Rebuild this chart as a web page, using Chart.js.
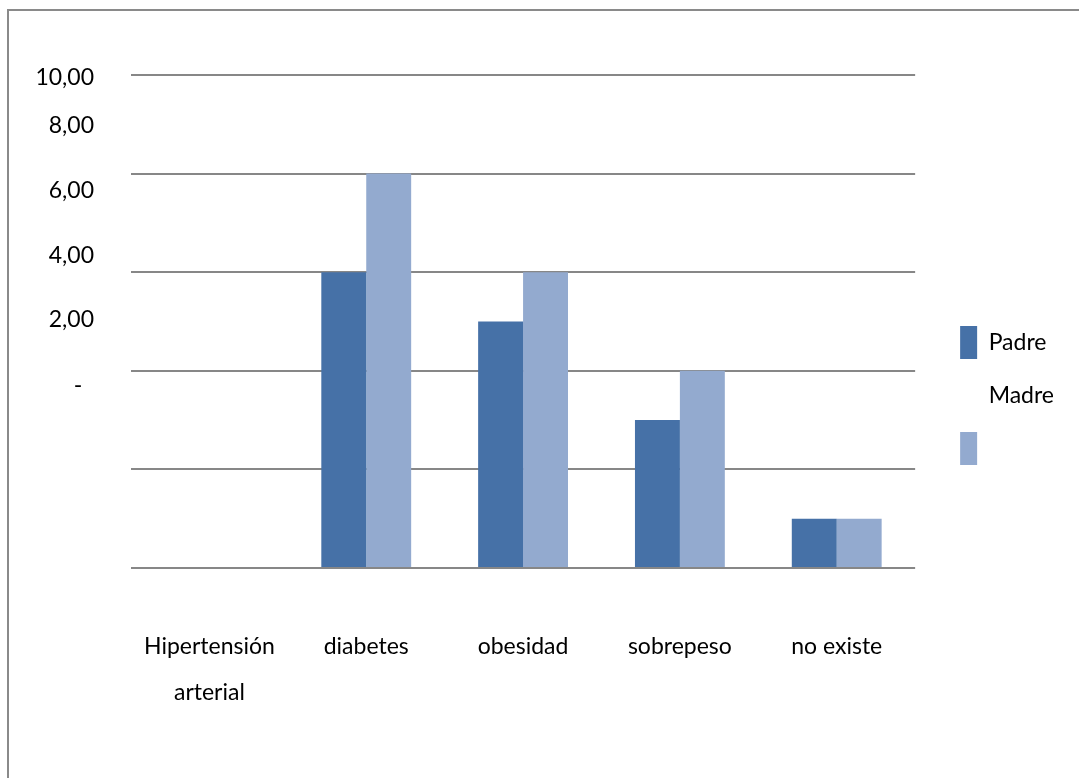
<!DOCTYPE html>
<html>
<head>
<meta charset="utf-8">
<script src="https://cdn.jsdelivr.net/npm/chart.js@4"></script>
<style>
  html, body { margin: 0; padding: 0; background: #fff; overflow: hidden; }
  #frame { position: absolute; left: 7px; top: 9px; width: 1200px; height: 900px; border: 2px solid #8a8a8a; box-sizing: border-box; }
  #c { position: absolute; left: 0; top: 0; }
</style>
</head>
<body>
<div id="frame"></div>
<canvas id="c" width="1079" height="778" style="width:1079px;height:778px"></canvas>
<script>
// ---- data ----
const categories = [['Hipertensión', 'arterial'], 'diabetes', 'obesidad', 'sobrepeso', 'no existe'];
const seriesNames = ['Padre', 'Madre'];
const padreValues = [0, 6, 5, 3, 1];
const madreValues = [0, 8, 6, 4, 1];
const yTickLabels = ['10,00', '8,00', '6,00', '4,00', '2,00', '-  '];

// ---- layout of the (misplaced) value labels, as in the original ----
const yLabelAnchors = [9.94, 8.97, 7.65, 6.33, 5.03, 3.71];

const FONT = 'Lato';
const DARK = '#4671a7';
const LIGHT = '#93aacf';

new Chart(document.getElementById('c'), {
  type: 'bar',
  data: {
    labels: categories,
    datasets: [
      { label: seriesNames[0], data: padreValues, backgroundColor: DARK, borderWidth: 0,
        categoryPercentage: 0.573, barPercentage: 1.0 },
      { label: seriesNames[1], data: madreValues, backgroundColor: LIGHT, borderWidth: 0,
        categoryPercentage: 0.573, barPercentage: 1.0 }
    ]
  },
  options: {
    responsive: false,
    animation: false,
    devicePixelRatio: 1,
    layout: { padding: { top: 75, bottom: 62, left: 0, right: 15 } },
    plugins: {
      tooltip: { enabled: false },
      legend: {
        position: 'right',
        align: 'center',
        labels: {
          boxWidth: 17,
          boxHeight: 33,
          padding: 20,
          color: '#000',
          font: { family: FONT, size: 23 },
          generateLabels: (chart) => [
            { text: seriesNames[0], fillStyle: DARK, strokeStyle: 'rgba(0,0,0,0)', lineWidth: 0, datasetIndex: 0, hidden: false },
            { text: seriesNames[1], fillStyle: 'rgba(0,0,0,0)', strokeStyle: 'rgba(0,0,0,0)', lineWidth: 0, hidden: false },
            { text: '', fillStyle: LIGHT, strokeStyle: 'rgba(0,0,0,0)', lineWidth: 0, datasetIndex: 1, hidden: false }
          ]
        }
      }
    },
    scales: {
      x: {
        grid: { display: false, drawTicks: false },
        border: { display: false },
        ticks: {
          color: '#000',
          padding: 56,
          maxRotation: 0,
          autoSkip: false,
          font: { family: FONT, size: 23, lineHeight: 2.0 }
        },
        afterFit: (s) => { s.height = 148; }
      },
      y: {
        position: 'left',
        min: 0, max: 10,
        ticks: { display: false, stepSize: 2 },
        grid: { color: '#878787', lineWidth: 2, drawTicks: false },
        border: { display: false },
        afterFit: (s) => { s.width = 0; }
      },
      yl: {
        position: 'left',
        min: 0, max: 10,
        grid: { display: false, drawTicks: false },
        border: { display: false },
        afterBuildTicks: (s) => { s.ticks = yLabelAnchors.map(v => ({ value: v })); },
        ticks: {
          color: '#000',
          padding: 37,
          autoSkip: false,
          font: { family: FONT, size: 23 },
          callback: (v, i) => yTickLabels[i]
        },
        afterFit: (s) => { s.width = 131; }
      },
      spacer: {
        position: 'right',
        min: 0, max: 1,
        grid: { display: false, drawTicks: false },
        border: { display: false },
        ticks: { display: false },
        afterFit: (s) => { s.width = 25; }
      }
    }
  }
});
</script>
</body>
</html>
